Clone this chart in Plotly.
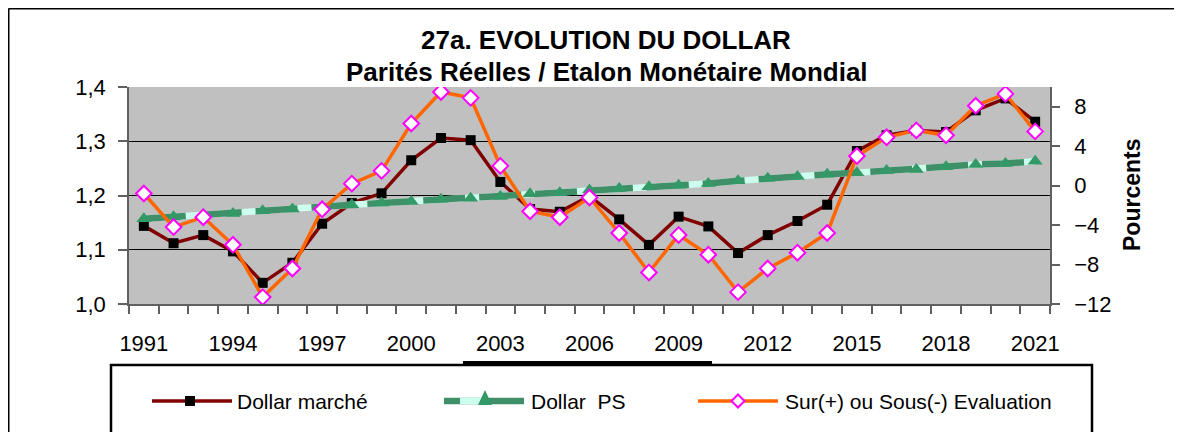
import plotly.graph_objects as go

# ---------------- data ----------------
years = list(range(1991, 2022))
dollar_marche = [1.144, 1.112, 1.127, 1.097, 1.039, 1.076, 1.148, 1.186, 1.204, 1.265,
                 1.306, 1.302, 1.225, 1.175, 1.170, 1.199, 1.156, 1.109, 1.161, 1.143,
                 1.094, 1.127, 1.153, 1.183, 1.282, 1.311, 1.320, 1.317, 1.357, 1.379, 1.336]
dollar_ps = [1.157, 1.161, 1.164, 1.167, 1.172, 1.175, 1.179, 1.183, 1.186, 1.189,
             1.193, 1.195, 1.198, 1.203, 1.205, 1.210, 1.213, 1.216, 1.219, 1.222,
             1.227, 1.232, 1.235, 1.239, 1.242, 1.246, 1.248, 1.253, 1.257, 1.259, 1.263]
sur_sous = [-0.8, -4.2, -3.2, -6.0, -11.3, -8.4, -2.4, 0.2, 1.5, 6.3,
            9.5, 8.9, 2.0, -2.6, -3.2, -1.2, -4.8, -8.8, -5.0, -7.0,
            -10.8, -8.4, -6.8, -4.8, 3.0, 4.9, 5.6, 5.1, 8.1, 9.3, 5.5]
x_tick_years = list(range(1991, 2022, 3))
left_ticks = [1.0, 1.1, 1.2, 1.3, 1.4]
left_grid = [1.1, 1.2, 1.3]
right_ticks = [-12, -8, -4, 0, 4, 8]
series_names = ["Dollar marché", "Dollar\u00a0 PS", "Sur(+) ou Sous(-) Evaluation"]
title_lines = ["27a. EVOLUTION DU DOLLAR", "Parités Réelles / Etalon Monétaire Mondial"]
right_title = "Pourcents"

# ---------------- styling ----------------
# the page body adds an 8px offset, so the figure is 8px smaller than the window
OFF = 8
W, H = 1182 - OFF, 432 - OFF
ML, MR, MT, MB = 129 - OFF, 132, 87 - OFF, 128
PW, PH = W - ML - MR, H - MT - MB
FONT = "Liberation Sans, Arial, sans-serif"
C_MARCHE = "#800000"
C_PS = "#3F9068"
C_PS_LIGHT = "#CCFFEE"
C_PS_MARK = "#339966"
C_SUR = "#FF6600"
C_DIAM = "#FF00FF"
AX = "#606060"


def px(x):
    """page pixel x -> paper coordinate"""
    return (x - OFF - ML) / PW


def py(y):
    """page pixel y -> paper coordinate"""
    return (H - MB - (y - OFF)) / PH


fig = go.Figure()

fig.add_trace(go.Scatter(
    x=years, y=dollar_marche, name=series_names[0], mode="lines+markers",
    line=dict(color=C_MARCHE, width=3.5),
    marker=dict(symbol="square", size=10, color="black"),
))
fig.add_trace(go.Scatter(
    x=years, y=dollar_ps, mode="lines", showlegend=False, hoverinfo="skip",
    line=dict(color=C_PS_LIGHT, width=6.5),
))
fig.add_trace(go.Scatter(
    x=years, y=dollar_ps, name=series_names[1], mode="lines+markers",
    line=dict(color=C_PS, width=6.5, dash="42px,14px"),
    marker=dict(symbol="triangle-up", size=13, color=C_PS_MARK),
))
fig.add_trace(go.Scatter(
    x=years, y=sur_sous, name=series_names[2], mode="lines+markers", yaxis="y2",
    line=dict(color=C_SUR, width=3.5),
    marker=dict(symbol="diamond", size=12, color="white", line=dict(color=C_DIAM, width=2)),
))

tickfont = dict(family=FONT, size=22, color="black")

fig.update_layout(
    width=W, height=H,
    margin=dict(l=ML, r=MR, t=MT, b=MB, pad=0),
    paper_bgcolor="white", plot_bgcolor="#C0C0C0",
    showlegend=False,
    separators=", ",
    font=dict(family=FONT, color="black"),
    xaxis=dict(
        range=[1990.5, 2021.5], tickmode="array", tickvals=x_tick_years,
        ticktext=[str(v) for v in x_tick_years],
        ticks="outside", ticklen=8, tickcolor="rgba(0,0,0,0)",
        showgrid=False, zeroline=False, showline=True, linecolor=AX, linewidth=1.5,
        tickfont=tickfont, ticklabelstandoff=11,
        minor=dict(tickmode="linear", tick0=1990.5, dtick=1, ticks="outside",
                   ticklen=8, tickcolor=AX, tickwidth=1.5, showgrid=False),
    ),
    yaxis=dict(
        range=[1.0, 1.4], tickmode="array", tickvals=left_ticks, tickformat=".1f",
        ticks="outside", ticklen=9, tickcolor=AX, tickwidth=1.5,
        showgrid=False, zeroline=False, showline=True, linecolor=AX, linewidth=1.5,
        tickfont=tickfont, ticklabelstandoff=8,
        minor=dict(tickmode="array", tickvals=left_grid, ticks="", showgrid=True,
                   gridcolor="black", gridwidth=1),
    ),
    yaxis2=dict(
        range=[-12, 10], overlaying="y", side="right", tickmode="array",
        tickvals=right_ticks, ticks="outside", ticklen=8, tickcolor=AX, tickwidth=1.5,
        showgrid=False, zeroline=False, showline=True, linecolor=AX, linewidth=1.5,
        tickfont=tickfont, ticklabelstandoff=10,
    ),
)

annotations = [
    dict(text="<b>" + title_lines[0] + "</b>", x=px(606), y=py(40), xref="paper", yref="paper",
         showarrow=False, xanchor="center", yanchor="middle",
         font=dict(family=FONT, size=26, color="black")),
    dict(text="<b>" + title_lines[1] + "</b>", x=px(607), y=py(72), xref="paper", yref="paper",
         showarrow=False, xanchor="center", yanchor="middle",
         font=dict(family=FONT, size=26, color="black")),
    dict(text="<b>" + right_title + "</b>", x=px(1132), y=py(195), xref="paper", yref="paper",
         showarrow=False, xanchor="center", yanchor="middle", textangle=-90,
         font=dict(family=FONT, size=23, color="black")),
]

legend_y = 401
leg_text_x = [235, 529, 783]
for name, tx in zip(series_names, leg_text_x):
    annotations.append(dict(text=name, x=px(tx), y=py(legend_y), xref="paper", yref="paper",
                            showarrow=False, xanchor="left", yanchor="middle",
                            font=dict(family=FONT, size=21, color="black")))

shapes = []
# outer chart frame (top + left)
shapes.append(dict(type="line", xref="paper", yref="paper", x0=px(8.5), x1=px(1190), y0=py(8.5), y1=py(8.5),
                   line=dict(color="black", width=2)))
shapes.append(dict(type="line", xref="paper", yref="paper", x0=px(8.5), x1=px(8.5), y0=py(8.5), y1=py(440),
                   line=dict(color="black", width=2)))
# legend box
shapes.append(dict(type="rect", xref="paper", yref="paper", x0=px(111), x1=px(1092), y0=py(365), y1=py(445),
                   line=dict(color="black", width=2.5), fillcolor="rgba(0,0,0,0)"))
shapes.append(dict(type="rect", xref="paper", yref="paper", x0=px(463), x1=px(712), y0=py(361), y1=py(366),
                   line=dict(width=0), fillcolor="black"))
# legend samples
shapes.append(dict(type="line", xref="paper", yref="paper", x0=px(152), x1=px(232), y0=py(legend_y), y1=py(legend_y),
                   line=dict(color=C_MARCHE, width=3.5)))
shapes.append(dict(type="rect", xref="paper", yref="paper", x0=px(185), x1=px(195), y0=py(396), y1=py(406),
                   line=dict(width=0), fillcolor="black"))
shapes.append(dict(type="line", xref="paper", yref="paper", x0=px(444), x1=px(524), y0=py(legend_y), y1=py(legend_y),
                   line=dict(color=C_PS, width=6.5)))
shapes.append(dict(type="line", xref="paper", yref="paper", x0=px(460), x1=px(482), y0=py(legend_y), y1=py(legend_y),
                   line=dict(color=C_PS_LIGHT, width=6.5)))
tri = "M {} {} L {} {} L {} {} Z".format(px(485), py(390), px(478), py(405), px(492), py(405))
shapes.append(dict(type="path", xref="paper", yref="paper", path=tri, line=dict(width=0), fillcolor=C_PS_MARK))
shapes.append(dict(type="line", xref="paper", yref="paper", x0=px(698), x1=px(778), y0=py(legend_y), y1=py(legend_y),
                   line=dict(color=C_SUR, width=3.5)))
dia = "M {} {} L {} {} L {} {} L {} {} Z".format(px(738), py(394.5), px(744.5), py(401),
                                                 px(738), py(407.5), px(731.5), py(401))
shapes.append(dict(type="path", xref="paper", yref="paper", path=dia, line=dict(color=C_DIAM, width=2),
                   fillcolor="white"))

fig.update_layout(annotations=annotations, shapes=shapes)
fig.write_html("out.html")
